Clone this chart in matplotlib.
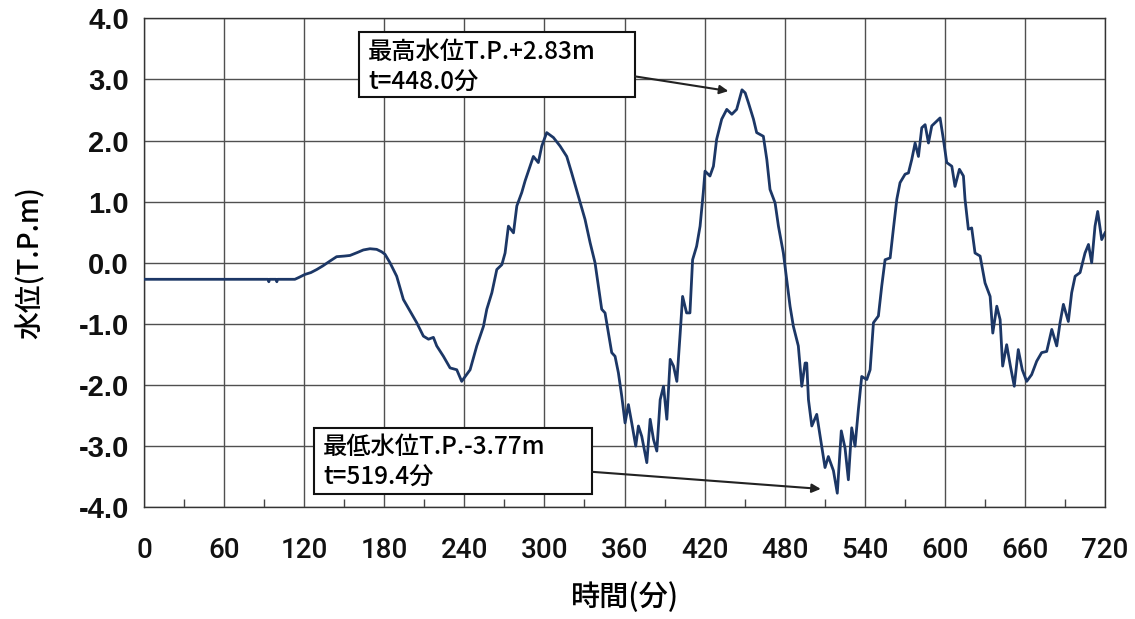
import numpy as np
import matplotlib
matplotlib.use("Agg")
import matplotlib.pyplot as plt
from matplotlib.patches import Rectangle
from matplotlib.ticker import MultipleLocator

plt.rcParams['font.family'] = ['Noto Sans CJK JP', 'DejaVu Sans']

# time (min) and water level (T.P. m)
t_min = [0, 93, 93.5, 94, 99, 99.5, 100, 113, 116, 120.6, 125, 129.4, 134, 139.4,
         144.3, 150, 154.3, 160, 164.3, 169.3, 174.3, 178, 180.5, 184.3, 189.3,
         194.3, 199.3, 204.3, 209.3, 213.1, 216.8, 219.3, 224.3, 229.3, 234.3,
         238, 239.3, 244.3, 249.3, 254.3, 256.8, 260.6, 264.3, 268.1, 270.5, 273,
         276.8, 279.3, 283, 285.5, 289.2, 291.7, 295.4, 298, 301.7, 306.7, 311.7,
         316.7, 320.4, 325.4, 330.4, 334.2, 337.9, 340.4, 342.9, 345.4, 347.9,
         350.4, 352.9, 355.4, 357.9, 360.4, 362.9, 365.4, 368.4, 370.4, 372.9,
         376.7, 379.2, 381.7, 384.2, 386.7, 389.2, 391.7, 394.2, 396.7, 399.2,
         401.7, 403.5, 406.5, 409, 411, 414, 416.6, 419, 420.3, 424, 426.6, 429,
         432.8, 436.6, 440.4, 444, 448, 450.4, 452.8, 456.6, 459, 464, 466.6, 469,
         472.8, 475.3, 479, 481.5, 484, 486.5, 490.2, 492.8, 495.3, 496.5, 497.8,
         500.3, 504, 507.7, 510.2, 512.7, 516.5, 519.4, 522.4, 525.2, 527.7,
         530.2, 532.7, 535.2, 537.7, 541.5, 544, 546.5, 550.2, 552.7, 555.2, 559,
         561.4, 564, 566.4, 570.2, 572.7, 575.2, 577.7, 580.2, 582.7, 585.2,
         587.7, 590.2, 594, 596.4, 598.9, 601.4, 605.2, 607.6, 610.9, 613.9,
         615.1, 617.6, 620.1, 622.6, 626.4, 630.1, 633.9, 635.9, 638.9, 641.4,
         643.3, 646.3, 649.1, 652, 655, 658, 661.3, 665, 668.8, 672.5, 676.3,
         680.1, 683.8, 686.3, 688.8, 692.5, 695, 697.6, 701.3, 705, 707.6, 710,
         712.5, 714.5, 717.5, 720]
level = [-0.27, -0.27, -0.31, -0.27, -0.27, -0.31, -0.27, -0.27, -0.24, -0.19,
         -0.16, -0.11, -0.05, 0.03, 0.10, 0.11, 0.12, 0.17, 0.21, 0.23, 0.22,
         0.18, 0.14, 0.0, -0.22, -0.60, -0.79, -0.98, -1.20, -1.25, -1.22, -1.36,
         -1.53, -1.72, -1.75, -1.94, -1.90, -1.75, -1.36, -1.04, -0.76, -0.49,
         -0.11, -0.03, 0.16, 0.60, 0.49, 0.93, 1.15, 1.34, 1.58, 1.74, 1.64, 1.91,
         2.13, 2.05, 1.91, 1.74, 1.47, 1.09, 0.71, 0.33, 0.0, -0.38, -0.76, -0.82,
         -1.15, -1.47, -1.53, -1.80, -2.18, -2.62, -2.32, -2.62, -3.0, -2.67,
         -2.84, -3.27, -2.56, -2.89, -3.08, -2.24, -2.02, -2.56, -1.58, -1.69,
         -1.94, -1.15, -0.55, -0.82, -0.82, 0.05, 0.27, 0.60, 1.15, 1.50, 1.42,
         1.58, 2.02, 2.35, 2.51, 2.43, 2.51, 2.83, 2.78, 2.62, 2.35, 2.13, 2.07,
         1.69, 1.20, 0.98, 0.60, 0.16, -0.27, -0.71, -1.04, -1.36, -2.02, -1.64,
         -1.64, -2.24, -2.67, -2.48, -3.0, -3.35, -3.17, -3.40, -3.77, -2.75,
         -3.03, -3.55, -2.70, -3.0, -2.40, -1.86, -1.91, -1.75, -0.98, -0.87,
         -0.38, 0.05, 0.08, 0.55, 1.04, 1.31, 1.45, 1.47, 1.69, 1.96, 1.74, 2.21,
         2.26, 1.96, 2.24, 2.32, 2.37, 2.02, 1.64, 1.58, 1.25, 1.53, 1.42, 1.04,
         0.55, 0.57, 0.16, 0.11, -0.33, -0.55, -1.15, -0.71, -0.93, -1.69, -1.34,
         -1.69, -2.02, -1.42, -1.75, -1.94, -1.83, -1.61, -1.47, -1.45, -1.09,
         -1.36, -0.98, -0.68, -0.96, -0.49, -0.22, -0.16, 0.16, 0.30, 0.0, 0.60,
         0.84, 0.38, 0.49]

x_ticks = list(range(0, 721, 60))
y_ticks = [-4.0, -3.0, -2.0, -1.0, 0.0, 1.0, 2.0, 3.0, 4.0]

max_text = "最高水位T.P.+2.83m\nt=448.0分"
min_text = "最低水位T.P.-3.77m\nt=519.4分"

fig = plt.figure(figsize=(11.35, 6.19), dpi=100)
ax = fig.add_axes([0.1269, 0.1805, 0.8467, 0.7899])

ax.plot(t_min, level, color='#1c3766', lw=2.0, zorder=3)

ax.set_xlim(0, 720)
ax.set_ylim(-4, 4)
ax.set_xticks(x_ticks)
ax.set_yticks(y_ticks)
ax.set_xticklabels([str(v) for v in x_ticks], family=['Roboto', 'Liberation Sans', 'DejaVu Sans'],
                   fontsize=20, fontweight='medium', color='#111111')
ax.set_yticklabels(["%.1f" % v for v in y_ticks], family=['Liberation Sans', 'DejaVu Sans'],
                   fontsize=21, fontweight='bold', color='#111111')
ax.xaxis.set_minor_locator(MultipleLocator(30))
ax.tick_params(axis='x', which='major', length=0, pad=21.5)
ax.tick_params(axis='y', which='major', length=0, pad=11)
ax.tick_params(axis='x', which='minor', direction='in', length=6, width=1, color='#444444')
ax.grid(True, which='major', color='#505050', lw=1.0)
for s in ax.spines.values():
    s.set_color('#333333')
    s.set_linewidth(1.0)

ax.set_xlabel("時間(分)", fontsize=21, fontweight='medium')
ax.xaxis.set_label_coords(0.5005, -0.152)
ax.set_ylabel("水位(T.P.m)", fontsize=20, fontweight='medium')
ax.yaxis.set_label_coords(-0.103, 0.5)

# annotation boxes
ax.add_patch(Rectangle((161.3, 2.72), 206.6, 1.05, facecolor='white',
                       edgecolor='#111111', lw=1.5, zorder=5))
ax.text(168, 3.20, max_text, fontsize=17.5, fontweight='medium', va='center', ha='left',
        linespacing=1.22, zorder=6)
ax.annotate("", xy=(437.8, 2.81), xytext=(367.9, 3.05),
            arrowprops=dict(arrowstyle='-|>', color='#222222', lw=1.5,
                            mutation_scale=13, shrinkA=0, shrinkB=0), zorder=6)

ax.add_patch(Rectangle((127.4, -3.78), 208.3, 1.08, facecolor='white',
                       edgecolor='#111111', lw=1.5, zorder=5))
ax.text(134.3, -3.27, min_text, fontsize=17.5, fontweight='medium', va='center', ha='left',
        linespacing=1.22, zorder=6)
ax.annotate("", xy=(507, -3.70), xytext=(335.7, -3.42),
            arrowprops=dict(arrowstyle='-|>', color='#222222', lw=1.5,
                            mutation_scale=13, shrinkA=0, shrinkB=0), zorder=6)

fig.savefig("out.png", dpi=100)
